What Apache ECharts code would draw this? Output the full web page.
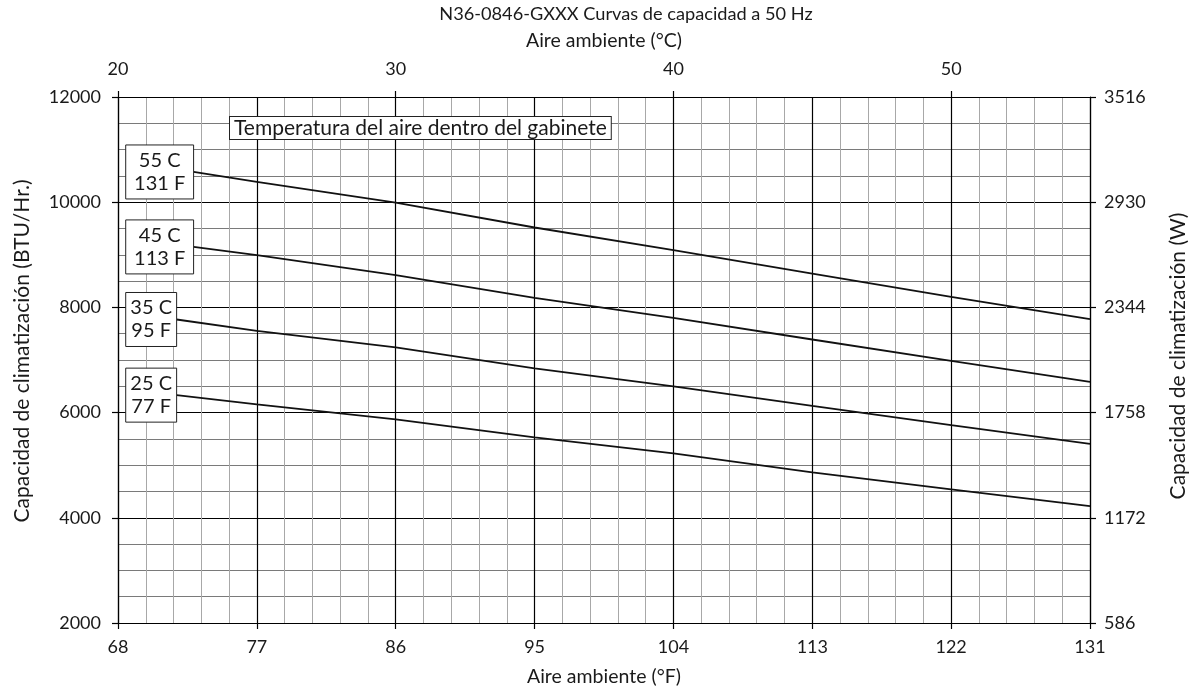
<!DOCTYPE html>
<html><head><meta charset="utf-8">
<script src="https://cdn.jsdelivr.net/npm/echarts@6/dist/echarts.min.js"></script>
<style>html,body{margin:0;padding:0;background:#fff}#c{width:1197px;height:692px}</style>
</head><body><div id="c"></div>
<script>
const FONT = 'Lato';
const TXT = '#1a1a1a';
const titleText = 'N36-0846-GXXX Curvas de capacidad a 50 Hz';
const noteText = 'Temperatura del aire dentro del gabinete';
const xTicksF = [68, 77, 86, 95, 104, 113, 122, 131];
const xTicksC = [20, 30, 40, 50];
const xRangeC = [20, 55];
const yTicksBTU = [2000, 4000, 6000, 8000, 10000, 12000];
const yTicksW = [586, 1172, 1758, 2344, 2930, 3516];
const seriesLabels = ['55 C\n131 F', '45 C\n113 F', '35 C\n95 F', '25 C\n77 F'];
const line55 = [[72.9,10575],[77,10385],[86,9994],[95,9519],[104,9087],[113,8644],[122,8200],[131,7776]];
const line45 = [[72.9,9150],[77,8992],[86,8612],[95,8181],[104,7800],[113,7390],[122,6984],[131,6585]];
const line35 = [[71.8,7770],[77,7554],[86,7238],[95,6839],[104,6500],[113,6129],[122,5762],[131,5407]];
const line25 = [[71.8,6332],[77,6155],[86,5870],[95,5528],[104,5224],[113,4863],[122,4540],[131,4223]];
const labelLeftF = 68.5;

const lines = [line55, line45, line35, line25];
const chart = echarts.init(document.getElementById('c'), null, {renderer: 'canvas'});
const plain = v => String(v);
const lbl = {color: TXT, fontFamily: FONT, fontSize: 18, formatter: plain};
const nameStyle = {color: TXT, fontFamily: FONT, fontSize: 19.5};
const axisLineBlack = {show: true, lineStyle: {color: '#000', width: 1.2}};
const tick = {show: true, length: 6, lineStyle: {color: '#000', width: 1.2}};

const noteGfx = {
  type: 'text', left: 229, top: 116, z: 100,
  style: {text: noteText, fontFamily: FONT, fontSize: 21, fill: TXT, backgroundColor: '#fff',
    borderColor: '#222', borderWidth: 1, padding: [1, 4, 0, 4]}
};

chart.setOption({
  animation: false,
  backgroundColor: '#fff',
  title: {text: titleText, left: 621, textAlign: 'center', top: 0,
    textStyle: {color: TXT, fontFamily: FONT, fontSize: 18.2, fontWeight: 'normal'}},
  grid: {left: 118, right: 104, top: 97, bottom: 69, show: false},
  xAxis: [{
    type: 'value', position: 'bottom', min: xTicksF[0], max: xTicksF[xTicksF.length-1], interval: 9,
    name: 'Aire ambiente (°F)', nameLocation: 'middle', nameGap: 44, nameTextStyle: nameStyle,
    axisLine: axisLineBlack, axisTick: tick,
    axisLabel: Object.assign({margin: 15}, lbl),
    splitLine: {show: true, lineStyle: {color: '#000', width: 1.2}},
    minorTick: {show: false, splitNumber: 5},
    minorSplitLine: {show: true, lineStyle: {color: '#a8a8a8', width: 1}}
  }, {
    type: 'value', position: 'top', min: xRangeC[0], max: xRangeC[1], interval: 10,
    name: 'Aire ambiente (°C)', nameLocation: 'middle', nameGap: 46, nameTextStyle: nameStyle,
    axisLine: axisLineBlack,
    axisTick: Object.assign({customValues: xTicksC}, tick),
    axisLabel: Object.assign({margin: 19, customValues: xTicksC}, lbl),
    splitLine: {show: false}
  }],
  yAxis: [{
    type: 'value', position: 'left', min: yTicksBTU[0], max: yTicksBTU[yTicksBTU.length-1], interval: 2000,
    name: 'Capacidad de climatización (BTU/Hr.)', nameLocation: 'middle', nameGap: 85,
    nameTextStyle: Object.assign({}, nameStyle, {fontSize: 21, padding: [0, 0, 0, 18]}),
    axisLine: axisLineBlack, axisTick: tick,
    axisLabel: Object.assign({margin: 17}, lbl),
    splitLine: {show: true, lineStyle: {color: '#000', width: 1.2}},
    minorTick: {show: false, splitNumber: 4},
    minorSplitLine: {show: true, lineStyle: {color: '#7a7a7a', width: 1}}
  }, {
    type: 'value', position: 'right', min: yTicksW[0], max: yTicksW[yTicksW.length-1], interval: 586,
    name: 'Capacidad de climatización (W)', nameLocation: 'middle', nameGap: 78,
    nameTextStyle: Object.assign({}, nameStyle, {fontSize: 21, padding: [0, 0, 0, 8]}),
    axisLine: axisLineBlack, axisTick: tick,
    axisLabel: Object.assign({margin: 14}, lbl),
    splitLine: {show: false}
  }],
  series: lines.map((d, i) => ({
    type: 'line', name: seriesLabels[i], xAxisIndex: 0, yAxisIndex: 0, data: d,
    symbol: 'none', lineStyle: {color: '#111', width: 1.8}, z: 5
  }))
});

const gfx = [noteGfx];
lines.forEach((d, i) => {
  const p1 = chart.convertToPixel({xAxisIndex: 0, yAxisIndex: 0}, d[0]);
  const p0 = chart.convertToPixel({xAxisIndex: 0, yAxisIndex: 0}, [labelLeftF, d[0][1]]);
  gfx.push({type: 'rect', z: 100, shape: {x: p0[0], y: p1[1] - 27, width: p1[0] - p0[0], height: 54},
    style: {fill: '#fff', stroke: '#222', lineWidth: 1}});
  gfx.push({type: 'text', z: 101, x: (p0[0] + p1[0]) / 2, y: p1[1],
    style: {text: seriesLabels[i], fontFamily: FONT, fontSize: 20, lineHeight: 23, fill: TXT,
      align: 'center', verticalAlign: 'middle'}});
});
chart.setOption({graphic: gfx});
</script></body></html>
